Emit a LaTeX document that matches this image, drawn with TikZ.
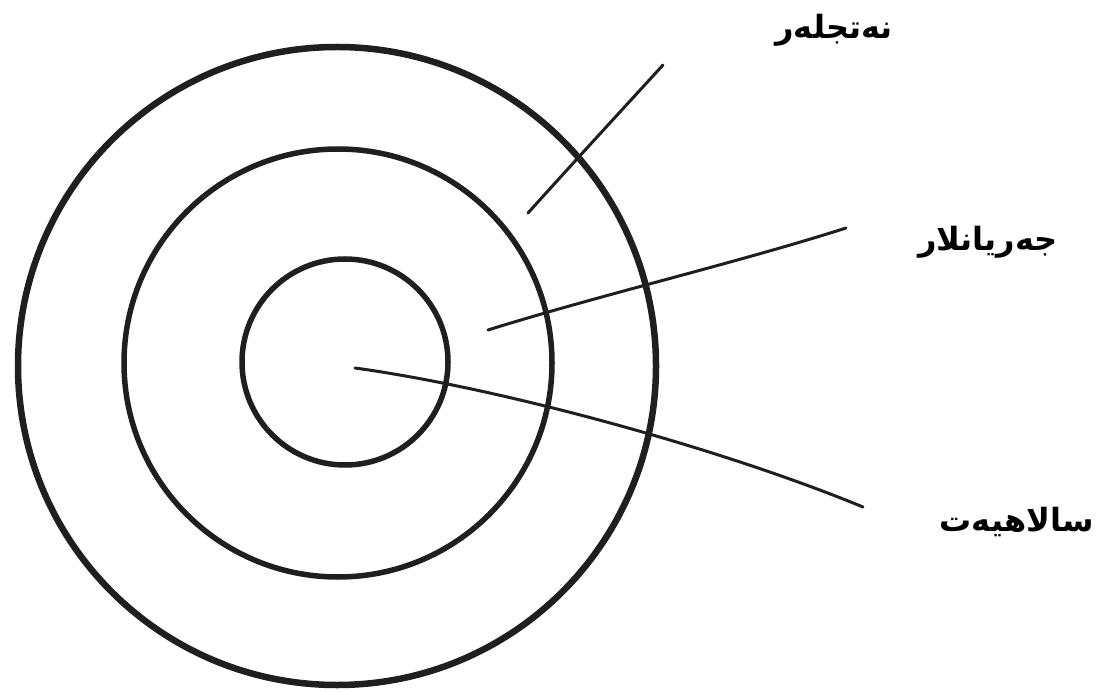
\documentclass[tikz,border=0pt]{standalone}
\usepackage{fontspec}
\newfontfamily\arabicfont[Script=Arabic]{DejaVu Sans Bold}
\TeXXeTstate=1
\begin{document}
\begin{tikzpicture}[x=1pt,y=-1pt,
  ring/.style={circle,draw=black!88,inner sep=0pt,outer sep=0pt},
  lbl/.style={font=\arabicfont\fontsize{32}{38}\selectfont,inner sep=0pt,anchor=east},
  lead/.style={draw=black!88,line width=3pt,line cap=round}]
\useasboundingbox (0,0) rectangle (1099,692);
\node[ring,line width=6.5pt,minimum size=638pt] (outer) at (337,366) {};
\node[ring,line width=5.5pt,minimum size=428pt] (middle) at (338,363) {};
\node[ring,line width=5.5pt,minimum size=206pt] (inner) at (345,362) {};
\coordinate (a1) at (528,213);
\coordinate (a2) at (663,65);
\coordinate (b1) at (488,330);
\coordinate (b2) at (846,228);
\coordinate (c1) at (355,368);
\coordinate (c2) at (863,507);
\draw[lead] (a1) .. controls (573,163) and (620,112) .. (a2);
\draw[lead] (b1) .. controls (600,295) and (740,262) .. (b2);
\draw[lead] (c1) .. controls (500,388) and (720,448) .. (c2);
\node[lbl] (t1) at (893,30) {\beginR نەتجلەر\endR};
\node[lbl] (t2) at (1058,242) {\beginR جەريانلار\endR};
\node[lbl] (t3) at (1094,522) {\beginR سالاهيەت\endR};
\end{tikzpicture}
\end{document}
